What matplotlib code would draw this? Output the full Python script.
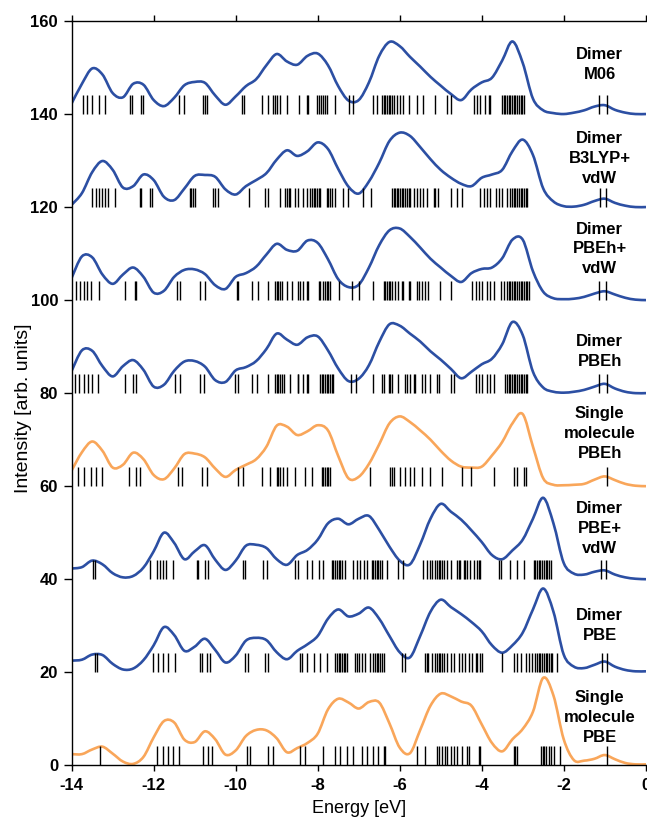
import matplotlib.pyplot as plt
from matplotlib.path import Path
from matplotlib.patches import PathPatch

plt.rcParams['font.family'] = ['Liberation Sans', 'DejaVu Sans']
plt.rcParams['axes.unicode_minus'] = False

# energy grid the curves were read on (eV)
energy = [-14.0, -13.75, -13.5, -13.25, -13.0, -12.75, -12.5, -12.25, -12.0, -11.75,
          -11.5, -11.25, -11.0, -10.75, -10.5, -10.25, -10.0, -9.75, -9.5, -9.25,
          -9.0, -8.75, -8.5, -8.25, -8.0, -7.75, -7.5, -7.25, -7.0, -6.75,
          -6.5, -6.25, -6.0, -5.75, -5.5, -5.25, -5.0, -4.75, -4.5, -4.25,
          -4.0, -3.75, -3.5, -3.25, -3.0, -2.75, -2.5, -2.25, -2.0, -1.75,
          -1.5, -1.25, -1.0, -0.75, -0.5, -0.25, 0.0]

# broadened spectra (without the vertical offset)
dimer_m06 = [2.3, 6.5, 9.8, 8.5, 4.5, 3.6, 6.5, 6.3, 3.0, 1.7,
             3.5, 6.2, 6.9, 6.7, 4.0, 2.0, 3.8, 6.0, 7.5, 10.5,
             12.9, 11.3, 10.6, 12.5, 13.0, 10.5, 6.0, 2.9, 3.0, 6.8,
             12.5, 15.5, 14.6, 12.3, 10.2, 8.0, 6.1, 4.3, 3.0, 5.3,
             6.8, 7.8, 11.5, 15.6, 11.0, 3.3, 0.8, 0.2, 0.0, 0.3,
             0.8, 1.6, 1.9, 0.9, 0.3, 0.0, 0.0]
dimer_b3lyp_vdw = [0.5, 3.0, 7.5, 9.9, 8.0, 4.2, 4.5, 7.0, 5.8, 2.2,
                   1.5, 4.0, 6.7, 6.9, 6.5, 3.8, 2.7, 4.5, 5.8, 7.3,
                   10.2, 12.2, 11.0, 12.0, 13.9, 12.5, 8.2, 4.4, 2.9, 5.5,
                   9.5, 14.2, 16.0, 15.3, 12.9, 10.3, 8.0, 6.3, 5.0, 4.5,
                   6.3, 7.0, 8.0, 12.0, 14.5, 11.2, 4.0, 1.2, 0.2, 0.1,
                   0.5, 1.3, 1.8, 0.9, 0.3, 0.0, 0.0]
dimer_pbeh_vdw = [4.8, 9.4, 9.2, 5.5, 3.5, 5.5, 7.0, 5.0, 1.6, 2.0,
                  5.0, 6.5, 6.6, 5.6, 3.2, 2.4, 5.0, 5.8, 7.2, 9.8,
                  12.1, 10.8, 10.6, 12.8, 12.3, 8.8, 4.5, 2.8, 3.3, 7.0,
                  11.8, 15.0, 15.4, 13.6, 11.3, 8.9, 7.0, 5.2, 3.9, 5.8,
                  6.7, 7.0, 9.0, 13.0, 13.0, 6.2, 1.8, 0.4, 0.2, 0.3,
                  0.7, 1.4, 1.9, 1.2, 0.5, 0.1, 0.0]
dimer_pbeh = [4.8, 9.2, 9.1, 5.8, 3.6, 5.8, 7.1, 5.0, 1.4, 1.8,
              4.8, 6.8, 6.9, 5.7, 2.8, 2.4, 4.9, 5.6, 6.9, 9.5,
              12.8, 11.5, 10.4, 12.0, 12.2, 9.2, 5.3, 2.6, 3.1, 6.0,
              11.0, 14.8, 14.5, 12.8, 11.1, 9.0, 7.2, 5.2, 3.2, 4.6,
              6.2, 7.4, 10.5, 15.3, 12.5, 4.6, 1.2, 0.3, 0.1, 0.3,
              0.7, 1.4, 2.0, 1.0, 0.3, 0.0, 0.0]
single_pbeh = [3.4, 7.3, 9.6, 7.6, 4.0, 4.6, 7.2, 5.8, 2.4, 1.5,
               3.8, 6.9, 7.0, 6.2, 3.8, 2.0, 3.5, 4.6, 5.8, 8.5,
               13.0, 12.8, 11.0, 11.8, 13.1, 12.0, 6.5, 1.7, 2.0, 4.8,
               9.0, 13.5, 15.0, 13.8, 12.0, 10.0, 7.6, 5.5, 4.2, 4.0,
               4.2, 6.6, 9.5, 13.5, 15.5, 8.5, 1.7, 0.3, 0.2, 0.3,
               0.5, 1.4, 2.1, 1.3, 0.5, 0.1, 0.0]
dimer_pbe_vdw = [2.3, 2.6, 4.0, 3.2, 1.3, 0.4, 0.7, 2.5, 6.0, 10.0,
                 7.8, 4.3, 6.0, 7.3, 4.2, 2.0, 4.0, 7.2, 7.4, 6.7,
                 4.3, 3.1, 5.2, 6.3, 8.5, 12.0, 13.0, 11.8, 13.0, 13.6,
                 10.6, 7.0, 4.0, 3.2, 7.5, 13.0, 16.2, 14.5, 12.8, 10.5,
                 8.0, 5.2, 4.3, 6.2, 8.5, 13.0, 17.5, 12.0, 3.5, 1.2,
                 1.0, 1.6, 1.9, 1.0, 0.4, 0.1, 0.0]
dimer_pbe = [2.5, 2.7, 3.8, 3.7, 1.8, 0.6, 0.8, 2.6, 5.8, 9.7,
             8.0, 4.6, 5.5, 7.2, 4.8, 2.1, 3.6, 6.8, 7.4, 6.9,
             4.3, 2.8, 4.6, 6.0, 7.8, 11.5, 13.5, 12.0, 12.6, 13.9,
             11.5, 7.8, 4.3, 3.2, 7.8, 13.0, 15.6, 14.0, 12.5, 10.8,
             8.8, 5.8, 4.2, 5.8, 8.5, 13.5, 18.0, 13.0, 3.8, 1.2,
             0.9, 1.6, 2.3, 1.2, 0.5, 0.2, 0.2]
single_pbe = [2.4, 2.4, 3.4, 4.0, 2.5, 0.8, 0.3, 1.8, 6.0, 9.5,
              9.2, 5.5, 5.0, 7.3, 5.6, 2.3, 3.2, 6.3, 7.6, 7.5,
              5.8, 2.8, 3.7, 4.8, 6.8, 12.0, 14.3, 13.5, 12.2, 13.6,
              13.5, 9.0, 3.8, 2.6, 7.6, 12.8, 15.4, 14.8, 13.7, 12.8,
              8.8, 4.8, 3.0, 5.6, 7.8, 11.5, 18.8, 15.0, 5.6, 1.1,
              1.0, 1.4, 2.2, 1.3, 0.5, 0.2, 0.2]

# eigenvalue sticks (eV)
m06_sticks = [-13.72, -13.63, -13.50, -13.34, -13.19, -12.57, -12.52, -12.30, -12.26, -11.39,
              -11.26, -10.79, -10.74, -10.71, -9.85, -9.80, -9.37, -9.20, -9.08, -9.04,
              -9.00, -8.92, -8.75, -8.45, -8.27, -8.23, -8.02, -7.96, -7.92, -7.87,
              -7.82, -7.78, -7.57, -7.24, -7.13, -6.64, -6.56, -6.43, -6.39, -6.35,
              -6.31, -6.27, -6.23, -6.19, -6.15, -6.07, -5.99, -5.91, -5.78, -5.58,
              -5.42, -5.13, -4.85, -4.76, -4.19, -4.11, -4.03, -3.91, -3.83, -3.79,
              -3.50, -3.46, -3.42, -3.38, -3.34, -3.30, -3.26, -3.22, -3.18, -3.14,
              -3.09, -3.05, -3.01, -2.97, -1.14, -0.94]
b3lyp_sticks = [-13.50, -13.40, -13.34, -13.27, -13.19, -13.11, -12.95, -12.34, -12.30, -12.09,
                -12.05, -11.12, -11.08, -11.04, -11.00, -10.55, -10.51, -10.43, -9.67, -9.28,
                -9.20, -8.92, -8.80, -8.75, -8.71, -8.67, -8.55, -8.47, -8.35, -8.27,
                -8.19, -8.14, -8.10, -8.06, -8.02, -7.98, -7.94, -7.78, -7.74, -7.70,
                -7.66, -7.57, -7.39, -7.25, -6.90, -6.70, -6.19, -6.15, -6.11, -6.07,
                -6.03, -5.99, -5.95, -5.91, -5.87, -5.83, -5.78, -5.74, -5.66, -5.58,
                -5.50, -5.42, -5.34, -5.17, -5.13, -5.07, -4.76, -4.60, -4.48, -4.03,
                -3.95, -3.87, -3.79, -3.66, -3.58, -3.50, -3.38, -3.32, -3.25, -3.22,
                -3.18, -3.14, -3.09, -3.05, -3.01, -2.97, -2.93, -2.89, -1.12, -0.98]
pbeh_vdw_sticks = [-13.90, -13.79, -13.71, -13.63, -13.52, -13.33, -12.71, -12.46, -12.42, -11.43,
                   -11.36, -10.87, -10.75, -9.98, -9.94, -9.61, -9.45, -9.20, -9.04, -9.00,
                   -8.96, -8.92, -8.88, -8.75, -8.63, -8.47, -8.43, -8.35, -8.27, -8.23,
                   -7.98, -7.94, -7.86, -7.82, -7.78, -7.74, -7.70, -7.49, -7.17, -7.00,
                   -6.64, -6.39, -6.35, -6.31, -6.27, -6.23, -6.19, -6.11, -6.03, -5.95,
                   -5.91, -5.78, -5.74, -5.58, -5.54, -5.46, -5.38, -5.30, -5.01, -4.76,
                   -4.24, -4.15, -4.07, -3.99, -3.87, -3.79, -3.71, -3.54, -3.46, -3.38,
                   -3.34, -3.30, -3.26, -3.22, -3.18, -3.14, -3.09, -3.05, -3.01, -2.97,
                   -2.93, -2.89, -2.85, -1.14, -0.98]
pbeh_sticks = [-13.93, -13.82, -13.71, -13.60, -13.50, -13.36, -12.71, -12.50, -12.42, -11.48,
               -11.36, -10.87, -10.77, -10.02, -9.94, -9.61, -9.49, -9.20, -9.04, -9.00,
               -8.96, -8.92, -8.88, -8.82, -8.67, -8.49, -8.47, -8.35, -8.27, -8.23,
               -7.94, -7.90, -7.86, -7.82, -7.78, -7.74, -7.70, -7.66, -7.62, -7.19,
               -7.06, -6.64, -6.43, -6.39, -6.27, -6.23, -6.19, -6.03, -5.87, -5.83,
               -5.74, -5.66, -5.62, -5.46, -5.38, -5.26, -5.09, -5.05, -4.76, -4.68,
               -4.15, -4.07, -3.99, -3.87, -3.79, -3.71, -3.42, -3.38, -3.34, -3.30,
               -3.26, -3.22, -3.18, -3.14, -3.09, -3.05, -3.01, -2.97, -2.93, -2.89,
               -1.14, -0.95]
single_pbeh_sticks = [-13.85, -13.71, -13.54, -13.41, -13.27, -12.61, -12.44, -12.34, -11.40, -11.30,
                      -10.83, -10.71, -9.94, -9.81, -9.37, -9.16, -9.00, -8.96, -8.92, -8.84,
                      -8.75, -8.55, -8.31, -8.14, -7.90, -7.86, -7.82, -7.78, -7.74, -7.70,
                      -6.72, -6.23, -6.19, -6.15, -5.99, -5.86, -5.76, -5.66, -5.46, -5.25,
                      -4.97, -4.48, -4.26, -3.71, -3.22, -3.15, -2.97, -2.93, -0.95]
pbe_vdw_sticks = [-13.47, -13.44, -12.09, -11.93, -11.85, -11.77, -11.69, -11.52, -10.95, -10.91,
                  -10.75, -10.67, -9.81, -9.77, -9.33, -9.24, -8.55, -8.47, -8.27, -8.14,
                  -7.98, -7.86, -7.66, -7.62, -7.57, -7.53, -7.49, -7.45, -7.41, -7.33,
                  -7.13, -7.05, -6.96, -6.88, -6.80, -6.68, -6.64, -6.60, -6.56, -6.52,
                  -6.48, -6.43, -6.31, -6.03, -5.91, -5.42, -5.34, -5.26, -5.22, -5.13,
                  -5.09, -5.05, -5.01, -4.97, -4.93, -4.85, -4.76, -4.60, -4.56, -4.52,
                  -4.44, -4.40, -4.36, -4.28, -4.19, -4.11, -4.07, -4.03, -3.58, -3.54,
                  -3.30, -3.14, -2.97, -2.73, -2.69, -2.65, -2.61, -2.57, -2.52, -2.48,
                  -2.44, -2.40, -2.36, -2.32, -1.10, -0.98]
pbe_sticks = [-13.42, -13.38, -12.01, -11.89, -11.77, -11.65, -11.48, -10.87, -10.83, -10.71,
              -10.63, -9.77, -9.69, -9.28, -9.20, -8.43, -8.39, -8.27, -8.10, -7.94,
              -7.78, -7.57, -7.53, -7.49, -7.45, -7.41, -7.37, -7.33, -7.29, -7.09,
              -7.05, -7.00, -6.92, -6.84, -6.72, -6.65, -6.60, -6.56, -6.52, -6.48,
              -6.43, -6.39, -5.95, -5.87, -5.38, -5.34, -5.30, -5.22, -5.13, -5.09,
              -5.05, -5.01, -4.97, -4.93, -4.85, -4.76, -4.68, -4.56, -4.48, -4.40,
              -4.32, -4.24, -4.15, -4.11, -4.03, -3.99, -3.50, -3.22, -3.14, -3.05,
              -2.93, -2.85, -2.77, -2.69, -2.65, -2.61, -2.57, -2.52, -2.48, -2.44,
              -2.40, -2.36, -2.32, -2.28, -2.16, -1.06, -0.95]
single_pbe_sticks = [-13.32, -11.93, -11.77, -11.65, -11.52, -11.39, -10.79, -10.67, -10.59, -9.72,
                     -9.65, -9.20, -9.10, -8.43, -8.31, -7.87, -7.57, -7.45, -7.29, -7.13,
                     -6.92, -6.80, -6.64, -6.52, -6.39, -6.35, -5.58, -5.38, -5.09, -5.05,
                     -4.97, -4.89, -4.85, -4.76, -4.68, -4.60, -4.48, -4.36, -4.32, -4.07,
                     -4.05, -3.22, -3.18, -3.14, -2.55, -2.51, -2.47, -2.42, -2.36, -2.32,
                     -2.24, -2.09, -0.95]

labels = ['Dimer\nM06', 'Dimer\nB3LYP+\nvdW', 'Dimer\nPBEh+\nvdW', 'Dimer\nPBEh',
          'Single\nmolecule\nPBEh', 'Dimer\nPBE+\nvdW', 'Dimer\nPBE', 'Single\nmolecule\nPBE']
offsets = [140, 120, 100, 80, 60, 40, 20, 0]
curves = [dimer_m06, dimer_b3lyp_vdw, dimer_pbeh_vdw, dimer_pbeh,
          single_pbeh, dimer_pbe_vdw, dimer_pbe, single_pbe]
sticks = [m06_sticks, b3lyp_sticks, pbeh_vdw_sticks, pbeh_sticks,
          single_pbeh_sticks, pbe_vdw_sticks, pbe_sticks, single_pbe_sticks]

blue = '#2c4fa3'
orange = '#f9a65a'
colors = [blue, blue, blue, blue, orange, blue, blue, orange]
label_y = [150.7, 130.5, 111.0, 89.0, 71.3, 50.9, 30.1, 10.3]


def smooth_path(xs, ys):
    # draw the read points joined by Catmull-Rom style bezier segments
    pts = list(zip(xs, ys))
    n = len(pts)
    verts = [pts[0]]
    codes = [Path.MOVETO]
    for i in range(n - 1):
        p0 = pts[i - 1] if i > 0 else pts[i]
        p1 = pts[i]
        p2 = pts[i + 1]
        p3 = pts[i + 2] if i + 2 < n else pts[i + 1]
        c1 = (p1[0] + (p2[0] - p0[0]) / 6, p1[1] + (p2[1] - p0[1]) / 6)
        c2 = (p2[0] - (p3[0] - p1[0]) / 6, p2[1] - (p3[1] - p1[1]) / 6)
        verts += [c1, c2, p2]
        codes += [Path.CURVE4] * 3
    return Path(verts, codes)


fig = plt.figure(figsize=(6.47, 8.17), dpi=100)
ax = fig.add_axes([0.1108, 0.0633, 0.8872, 0.9110])

for i in range(len(curves)):
    off = offsets[i]
    ax.vlines(sticks[i], off, off + 4.1, color='black', lw=1.0)
    path = smooth_path(energy, [v + off for v in curves[i]])
    ax.add_patch(PathPatch(path, facecolor='none', edgecolor=colors[i], lw=1.9,
                           joinstyle='round', capstyle='round'))
    ax.text(-1.12, label_y[i], labels[i], ha='center', va='center', fontsize=12,
            fontweight='bold', linespacing=1.4)

ax.set_xlim(-14, 0)
ax.set_ylim(0, 160)
ax.set_xticks([-14, -12, -10, -8, -6, -4, -2, 0])
ax.set_yticks([0, 20, 40, 60, 80, 100, 120, 140, 160])
ax.spines['right'].set_visible(False)
for s in ['left', 'top', 'bottom']:
    ax.spines[s].set_linewidth(1.0)
ax.tick_params(axis='x', direction='out', length=4.5, width=1.0, top=True, labeltop=False,
               labelsize=12, pad=5)
ax.tick_params(axis='y', direction='out', length=5.8, width=1.0, labelsize=12, pad=4)
for lbl in ax.get_xticklabels() + ax.get_yticklabels():
    lbl.set_fontweight('bold')

fig.text(358.6 / 647, 1 - 813 / 817, 'Energy [eV]', ha='center', va='baseline', fontsize=13)
fig.text(28.3 / 647, 1 - 408.5 / 817, 'Intensity [arb. units]', rotation=90,
         rotation_mode='anchor', ha='center', va='baseline', fontsize=14)

fig.savefig('out.png', dpi=100)
